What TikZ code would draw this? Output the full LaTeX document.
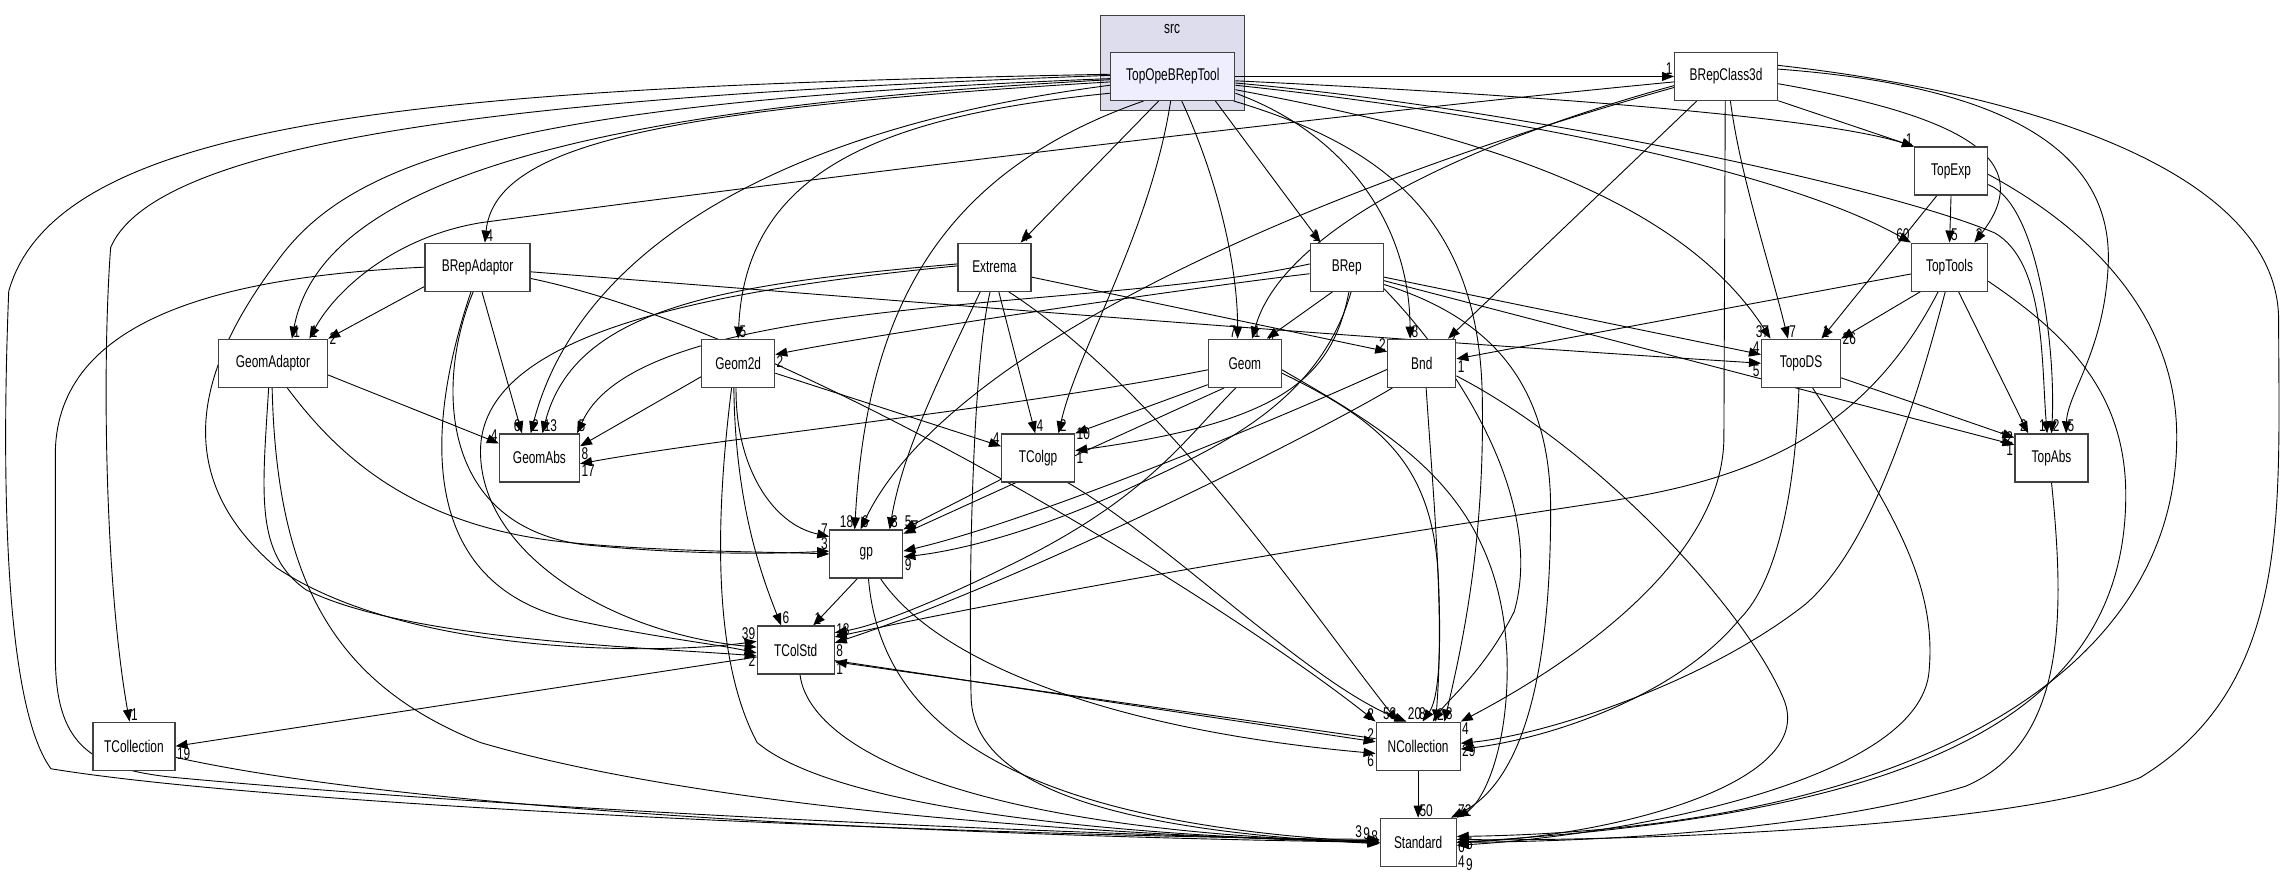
\documentclass[tikz,border=0pt]{standalone}
\usepackage{fontspec}
\usetikzlibrary{arrows.meta,calc}
\newfontfamily\dfont{Liberation Sans}[FakeStretch=0.7]
\newcommand\nodefont{\dfont\fontsize{17}{19}\selectfont}
\newcommand\lblfont{\dfont\fontsize{17}{19}\selectfont}
\definecolor{clusterfill}{HTML}{DDDDEE}
\definecolor{mainfill}{HTML}{EEEEFF}
\definecolor{boxline}{HTML}{404040}
\pgfdeclarelayer{bottom}
\pgfdeclarelayer{edges}
\pgfsetlayers{bottom,edges,main}
\tikzset{
  box/.style={draw=boxline, line width=1.2pt, fill=white, minimum height=48pt, inner sep=0pt, font=\nodefont},
  clusterbox/.style={draw=boxline, line width=1.2pt, fill=clusterfill, inner sep=0pt},
  dep/.style={draw=black, line width=0.9pt, -{Triangle[length=12pt,width=9pt]}},
  lbl/.style={font=\lblfont, inner sep=1pt},
}
\begin{document}
\begin{tikzpicture}[x=1.456pt,y=1.456pt]
\useasboundingbox (0,0) rectangle (1568,600);
% cluster
\begin{pgfonlayer}{bottom}
\node[clusterbox, minimum width=144pt, minimum height=95pt] (srcbox) at (805.5,556.5) {};
\end{pgfonlayer}
\node[font=\nodefont] (srclbl) at (805,580) {src};
% nodes
\node[box, fill=mainfill, minimum width=124pt] (TOBT) at (805.5,547.5) {TopOpeBRepTool};
\node[box, minimum width=103pt] (BC) at (1185.5,547.5) {BRepClass3d};
\node[box, minimum width=73pt] (TopExp) at (1340,482.5) {TopExp};
\node[box, minimum width=76pt] (TopTools) at (1339,416.5) {TopTools};
\node[box, minimum width=79pt] (TopoDS) at (1237,350.5) {TopoDS};
\node[box, minimum width=73pt] (TopAbs) at (1409,285.5) {TopAbs};
\node[box, minimum width=105pt] (BRepAdaptor) at (328,416.5) {BRepAdaptor};
\node[box, minimum width=73pt] (Extrema) at (683,416.5) {Extrema};
\node[box, minimum width=73pt] (BRep) at (925,416.5) {BRep};
\node[box, minimum width=109pt] (GeomAdaptor) at (187.5,350.5) {GeomAdaptor};
\node[box, minimum width=73pt] (Geom2d) at (507,350.5) {Geom2d};
\node[box, minimum width=73pt] (Geom) at (855,350.5) {Geom};
\node[box, minimum width=68pt] (Bnd) at (976.5,350.5) {Bnd};
\node[box, minimum width=80pt] (GeomAbs) at (370.5,285.5) {GeomAbs};
\node[box, minimum width=73pt] (TColgp) at (713,285.5) {TColgp};
\node[box, minimum width=73pt] (gp) at (595,219.5) {gp};
\node[box, minimum width=77pt] (TColStd) at (546.5,153.5) {TColStd};
\node[box, minimum width=82pt] (TCollection) at (92,87.5) {TCollection};
\node[box, minimum width=84pt] (NCollection) at (974,87.5) {NCollection};
\node[box, minimum width=76pt] (Standard) at (974,21.5) {Standard};

\begin{pgfonlayer}{edges}
% ---- TopOpeBRepTool
\draw[dep] (TOBT.east) -- (BC.west) node[lbl,anchor=south east]{1};
\draw[dep] (TOBT.-4) .. controls (1050,535) and (1250,520) .. (TopExp.north west) node[lbl,anchor=south east]{1};
\draw[dep] (TOBT.-8) .. controls (1050,520) and (1230,480) .. (TopTools.north west) node[lbl,anchor=south east]{60};
\draw[dep] (TOBT.-12) .. controls (1000,510) and (1150,470) .. ($(TopoDS.north)+(-21,0)$) node[lbl,anchor=south east]{37};
\draw[dep] (TOBT.-6) .. controls (1050,525) and (1300,470) .. (1370,440) .. controls (1405,420) and (1402,350) .. ($(TopAbs.north)+(-3,0)$) node[lbl,anchor=south east]{1};
\draw[dep] (TOBT.-30) -- ($(BRep.north)+(-18,0)$) node[lbl,anchor=south east]{1};
\draw[dep] (TOBT.-15) .. controls (920,510) and (968,450) .. ($(Bnd.north)+(-8,0)$) node[lbl,anchor=south west]{8};
\draw[dep] (TOBT.-70) .. controls (835,480) and (850,420) .. ($(Geom.north)+(-5,0)$) node[lbl,anchor=south east]{7};
\draw[dep] (TOBT.-120) -- ($(Extrema.north)+(18,0)$) node[lbl,anchor=south west]{4};
\draw[dep] (TOBT.-165) .. controls (600,520) and (512,480) .. (Geom2d.north) node[lbl,anchor=south west]{5};
\draw[dep] (TOBT.-95) .. controls (790,440) and (740,360) .. ($(TColgp.north)+(14,0)$) node[lbl,anchor=south west]{2};
\draw[dep] (TOBT.-140) .. controls (640,480) and (595,380) .. ($(gp.north)+(-8,0)$) node[lbl,anchor=south east]{18};
\draw[dep] (TOBT.-172) .. controls (520,510) and (395,420) .. ($(GeomAbs.north)+(-6,0)$) node[lbl,anchor=south west]{2};
\draw[dep] (TOBT.-175) .. controls (450,525) and (340,500) .. ($(BRepAdaptor.north)+(5,0)$) node[lbl,anchor=south west]{4};
\draw[dep] (TOBT.-177) .. controls (380,525) and (220,470) .. ($(GeomAdaptor.north)+(13,0)$) node[lbl,anchor=south west]{1};
\draw[dep] (TOBT.-178) .. controls (350,530) and (240,490) .. (190,420) .. controls (130,340) and (120,270) .. (190,210) .. controls (280,150) and (450,150) .. ($(TColStd.west)+(0,6)$) node[lbl,anchor=south east]{39};
\draw[dep] (TOBT.179) .. controls (400,535) and (110,510) .. (76,430) .. controls (70,350) and (72,200) .. ($(TCollection.north)+(-3,0)$) node[lbl,anchor=south west]{1};
\draw[dep] (TOBT.178) .. controls (300,540) and (40,520) .. (6,400) .. controls (2,300) and (0,120) .. (35,72) .. controls (200,45) and (700,25) .. ($(Standard.west)+(0,2)$) node[lbl,anchor=south east,xshift=-16pt]{3};
\draw[dep] (TOBT.-22) .. controls (950,500) and (1015,450) .. (1018,330) .. controls (1020,230) and (1005,160) .. ($(NCollection.north)+(18,0)$) node[lbl,anchor=south west]{8};
% ---- BRepClass3d
\draw[dep] (BC.-25) -- (TopExp.north west);
\draw[dep] (BC.-8) .. controls (1350,520) and (1400,490) .. ($(TopTools.north)+(17,0)$) node[lbl,anchor=south west]{3};
\draw[dep] (BC.-80) .. controls (1195,480) and (1215,420) .. ($(TopoDS.north)+(-9,0)$) node[lbl,anchor=south west]{7};
\draw[dep] (BC.8) .. controls (1390,540) and (1450,490) .. (1448,420) .. controls (1446,360) and (1420,330) .. ($(TopAbs.north)+(10,0)$) node[lbl,anchor=south west]{5};
\draw[dep] (BC.12) .. controls (1400,535) and (1565,480) .. (1565,380) .. controls (1565,250) and (1575,130) .. (1470,66) .. controls (1380,30) and (1100,22) .. ($(Standard.east)+(0,2)$) node[lbl,anchor=north west]{6};
\draw[dep] (BC.-140) -- ($(Bnd.north)+(18,0)$) node[lbl,anchor=west]{2};
\draw[dep] (BC.-170) .. controls (1000,500) and (880,440) .. ($(Geom.north)+(5,0)$) node[lbl,anchor=south west]{1};
\draw[dep] (BC.-168) .. controls (900,470) and (650,360) .. ($(gp.north)+(-4,0)$) node[lbl,anchor=south west]{6};
\draw[dep] (BC.-174) .. controls (900,520) and (500,470) .. (330,447) .. controls (270,437) and (230,400) .. ($(GeomAdaptor.north)+(25,0)$) node[lbl,anchor=south west]{1};
\draw[dep] (BC.-92) -- (1184,300) .. controls (1184,220) and (1090,150) .. (NCollection.north east) node[lbl,anchor=north west]{4};
% ---- TopExp
\draw[dep] (TopExp.south) -- (TopTools.north) node[lbl,anchor=south west]{5};
\draw[dep] (TopExp.-120) -- ($(TopoDS.north)+(14,0)$) node[lbl,anchor=south west]{1};
\draw[dep] (TopExp.-20) .. controls (1400,460) and (1412,360) .. ($(TopAbs.north)+(0,0)$) node[lbl,anchor=south west]{2};
\draw[dep] (TopExp.-5) .. controls (1440,440) and (1495,380) .. (1495,300) .. controls (1495,130) and (1300,30) .. ($(Standard.east)+(0,4)$) node[lbl,anchor=north west,xshift=8pt]{5};
% ---- TopTools
\draw[dep] (TopTools.-140) -- (TopoDS.north east) node[lbl,anchor=west]{26};
\draw[dep] (TopTools.-70) -- ($(TopAbs.north)+(-16,0)$) node[lbl,anchor=south east]{2};
\draw[dep] (TopTools.-170) -- ($(Bnd.east)+(0,3)$) node[lbl,anchor=north west]{1};
\draw[dep] (TopTools.-115) .. controls (1280,300) and (1200,270) .. (1100,255) .. controls (900,225) and (700,190) .. ($(TColStd.east)+(0,9)$) node[lbl,anchor=south west]{18};
\draw[dep] (TopTools.-100) .. controls (1310,300) and (1280,220) .. (1240,185) .. controls (1170,130) and (1060,95) .. ($(NCollection.east)+(0,2)$) node[lbl,anchor=north west]{29};
\draw[dep] (TopTools.-20) .. controls (1420,370) and (1460,330) .. (1460,260) .. controls (1460,100) and (1300,40) .. (Standard.east) node[lbl,anchor=north west,yshift=-12pt]{4};
% ---- TopoDS
\draw[dep] (TopoDS.-20) -- ($(TopAbs.north west)+(0,-3)$) node[lbl,anchor=north east,yshift=-5pt]{1};
\draw[dep] (TopoDS.-95) .. controls (1233,260) and (1220,200) .. (1195,175) .. controls (1150,120) and (1060,92) .. ($(NCollection.east)+(0,-2)$);
\draw[dep] (TopoDS.-65) .. controls (1300,250) and (1330,200) .. (1325,140) .. controls (1320,60) and (1100,25) .. ($(Standard.east)+(0,-2)$) node[lbl,anchor=north west,xshift=8pt,yshift=-12pt]{9};
% ---- TopAbs
\draw[dep] (TopAbs.south) .. controls (1418,180) and (1420,90) .. (1350,60) .. controls (1250,30) and (1100,22) .. (Standard.east);
% ---- BRepAdaptor
\draw[dep] (BRepAdaptor.-160) -- (GeomAdaptor.north east) node[lbl,anchor=west]{2};
\draw[dep] (BRepAdaptor.-80) -- ($(GeomAbs.north)+(-12,0)$) node[lbl,anchor=south east]{6};
\draw[dep] (BRepAdaptor.-100) .. controls (300,340) and (300,240) .. (400,226) .. controls (480,218) and (540,220) .. ($(gp.west)+(0,2)$) node[lbl,anchor=south east]{3};
\draw[dep] (BRepAdaptor.-105) .. controls (290,300) and (290,200) .. (390,175) .. controls (450,162) and (490,158) .. ($(TColStd.west)+(0,-2)$) node[lbl,anchor=north east]{2};
\draw[dep] (BRepAdaptor.west) .. controls (150,410) and (40,380) .. (38,290) -- (38,150) .. controls (38,90) and (60,72) .. (120,66) .. controls (400,40) and (800,25) .. ($(Standard.west)+(0,1)$) node[lbl,anchor=south east,xshift=-8pt]{9};
\draw[dep] (BRepAdaptor.-5) .. controls (600,395) and (900,370) .. (TopoDS.west) node[lbl,anchor=north east]{5};
\draw[dep] (BRepAdaptor.-12) .. controls (550,370) and (850,180) .. (NCollection.north west) node[lbl,anchor=south east]{2};
% ---- Extrema
\draw[dep] (Extrema.175) .. controls (500,405) and (395,390) .. ($(GeomAbs.north)+(2,0)$) node[lbl,anchor=south west]{13};
\draw[dep] (Extrema.178) .. controls (480,400) and (330,370) .. (330,290) .. controls (330,220) and (420,165) .. ($(TColStd.west)+(0,2)$);
\draw[dep] (Extrema.-120) .. controls (645,340) and (620,290) .. ($(gp.north)+(16,0)$) node[lbl,anchor=south west]{3};
\draw[dep] (Extrema.-80) -- ($(TColgp.north)+(-2,0)$) node[lbl,anchor=south west]{4};
\draw[dep] (Extrema.-60) .. controls (800,330) and (900,180) .. ($(NCollection.north)+(-14,0)$) node[lbl,anchor=south east]{58};
\draw[dep] (Extrema.-100) .. controls (668,350) and (665,200) .. (667,120) .. controls (670,50) and (800,28) .. ($(Standard.west)+(0,-1)$) node[lbl,anchor=south east]{8};
\draw[dep] (Extrema.-15) -- ($(Bnd.west)+(0,8)$) node[lbl,anchor=south east]{2};
% ---- BRep
\draw[dep] (BRep.-170) .. controls (800,400) and (600,370) .. ($(Geom2d.east)+(0,6)$) node[lbl,anchor=north west]{2};
\draw[dep] (BRep.175) .. controls (750,385) and (440,400) .. ($(GeomAbs.north east)+(-2,0)$) node[lbl,anchor=south west]{5};
\draw[dep] (BRep.-120) -- ($(Geom.north)+(15,0)$) node[lbl,anchor=west]{4};
\draw[dep] (BRep.-15) -- ($(TopoDS.west)+(0,6)$) node[lbl,anchor=south east]{4};
\draw[dep] (BRep.-20) -- ($(TopAbs.west)+(0,9)$) node[lbl,anchor=south east]{12};
\draw[dep] (BRep.-85) .. controls (915,340) and (880,310) .. ($(TColgp.east)+(0,5)$) node[lbl,anchor=north west]{1};
\draw[dep] (BRep.-80) .. controls (905,320) and (830,290) .. (770,262) .. controls (710,235) and (660,222) .. ($(gp.east)+(0,-2)$) node[lbl,anchor=north west]{9};
\draw[dep] (BRep.-30) .. controls (1010,340) and (1060,250) .. (1040,180) .. controls (1020,140) and (995,120) .. ($(NCollection.north)+(10,0)$);
\draw[dep] (BRep.-25) .. controls (1030,380) and (1065,330) .. (1065,250) .. controls (1065,120) and (1040,60) .. ($(Standard.north east)+(-4,0)$);
% ---- Geom
\draw[dep] (Geom.-170) .. controls (700,320) and (500,300) .. ($(GeomAbs.east)+(0,-4)$) node[lbl,anchor=north west]{17};
\draw[dep] (Geom.-150) -- (TColgp.north east) node[lbl,anchor=west]{10};
\draw[dep] (Geom.-130) -- ($(gp.north east)+(0,-3)$) node[lbl,anchor=south west,xshift=7pt]{7};
\draw[dep] (Geom.-110) .. controls (815,300) and (790,260) .. (700,215) .. controls (640,185) and (600,170) .. ($(TColStd.east)+(0,12)$);
\draw[dep] (Geom.-15) .. controls (950,310) and (985,280) .. (988,200) .. controls (990,150) and (988,120) .. ($(NCollection.north)+(3,0)$) node[lbl,anchor=south]{8};
\draw[dep] (Geom.-10) .. controls (960,300) and (1030,260) .. (1035,150) .. controls (1037,90) and (1020,50) .. (Standard.north east) node[lbl,anchor=south west]{72};
% ---- Geom2d
\draw[dep] (Geom2d.-160) -- ($(GeomAbs.east)+(0,8)$) node[lbl,anchor=north west]{8};
\draw[dep] (Geom2d.-15) -- ($(TColgp.west)+(0,8)$) node[lbl,anchor=south east]{4};
\draw[dep] (Geom2d.-95) .. controls (505,280) and (530,240) .. ($(gp.west)+(0,12)$) node[lbl,anchor=south east]{7};
\draw[dep] (Geom2d.-100) .. controls (505,250) and (525,200) .. ($(TColStd.north)+(-10,0)$) node[lbl,anchor=south west]{6};
\draw[dep] (Geom2d.-105) .. controls (492,250) and (488,150) .. (520,90) .. controls (580,40) and (800,25) .. (Standard.west);
% ---- GeomAdaptor
\draw[dep] (GeomAdaptor.-12) -- ($(GeomAbs.west)+(0,10)$) node[lbl,anchor=south east]{4};
\draw[dep] (GeomAdaptor.-60) .. controls (230,290) and (280,240) .. (385,228) .. controls (450,221) and (530,221) .. (gp.west);
\draw[dep] (GeomAdaptor.-100) .. controls (180,260) and (175,220) .. (210,195) .. controls (280,160) and (450,155) .. ($(TColStd.west)+(0,-4)$);
\draw[dep] (GeomAdaptor.-92) .. controls (190,200) and (230,130) .. (330,90) .. controls (500,40) and (800,25) .. (Standard.west);
% ---- Bnd
\draw[dep] (Bnd.-170) .. controls (850,300) and (700,240) .. ($(gp.east)+(0,2)$);
\draw[dep] (Bnd.-140) .. controls (900,300) and (700,200) .. ($(TColStd.east)+(0,5)$) node[lbl,anchor=north west]{8};
\draw[dep] (Bnd.-80) .. controls (985,250) and (992,180) .. ($(NCollection.north)+(12,0)$) node[lbl,anchor=south west]{2};
\draw[dep] (Bnd.-20) .. controls (1100,290) and (1200,180) .. (1225,120) .. controls (1250,60) and (1100,25) .. (Standard.east);
% ---- TColgp
\draw[dep] (TColgp.-150) -- (gp.north east) node[lbl,anchor=south west]{5};
\draw[dep] (TColgp.-40) .. controls (800,230) and (900,130) .. ($(NCollection.north)+(-8,0)$) node[lbl,anchor=south west]{20};
% ---- gp
\draw[dep] (gp.-110) -- ($(TColStd.north)+(12,0)$) node[lbl,anchor=south west]{1};
\draw[dep] (gp.-60) .. controls (640,150) and (750,100) .. ($(NCollection.west)+(0,-5)$) node[lbl,anchor=north east]{6};
\draw[dep] (gp.-85) .. controls (605,100) and (700,35) .. (Standard.west);
% ---- TColStd
\draw[dep] (TColStd.-170) -- (TCollection.east) node[lbl,anchor=north west]{19};
\draw[dep] (TColStd.-15) -- ($(NCollection.west)+(0,3)$) node[lbl,anchor=south east]{2};
\draw[dep] (NCollection.170) -- ($(TColStd.east)+(0,-8)$) node[lbl,anchor=north west]{1};
\draw[dep] (TColStd.-80) .. controls (555,90) and (650,30) .. (Standard.west);
% ---- NCollection, TCollection
\draw[dep] (NCollection.south) -- (Standard.north) node[lbl,anchor=south west]{50};
\draw[dep] (TCollection.-15) .. controls (300,40) and (700,25) .. (Standard.west);
\end{pgfonlayer}
\end{tikzpicture}
\end{document}
